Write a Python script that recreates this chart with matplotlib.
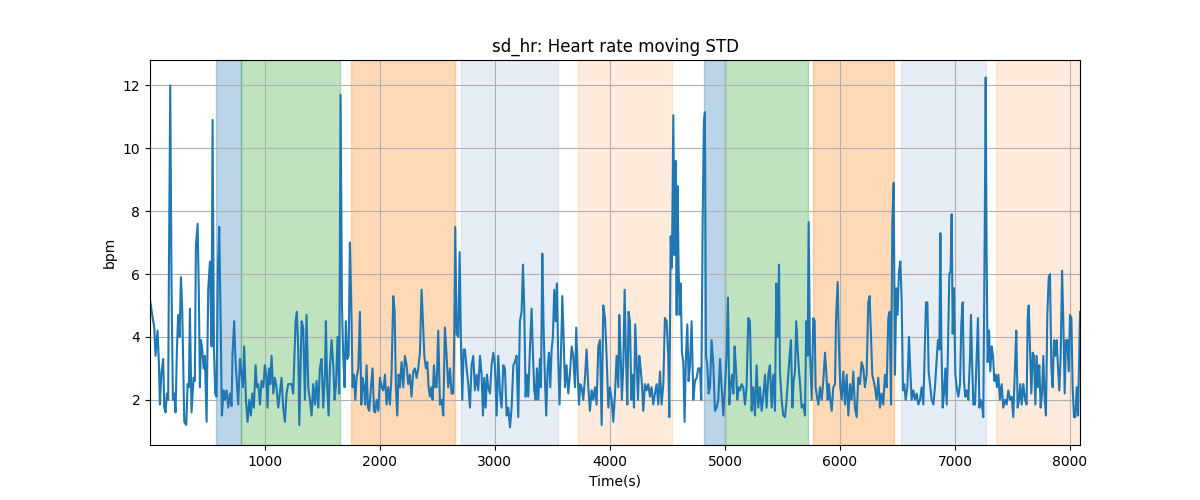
import matplotlib.pyplot as plt

# time axis (s) and moving std of heart rate (bpm)
time_s = [
    1, 20, 38, 49, 67, 78, 87, 101, 116, 125, 136, 148, 159, 165, 177, 188,
    200, 212, 223, 235, 246, 258, 270, 281, 290, 299, 316, 328, 339, 348, 362,
    380, 391, 400, 415, 426, 435, 444, 455, 467, 478, 493, 507, 522, 536, 545,
    557, 568, 580, 591, 603, 615, 626, 641, 652, 667, 681, 696, 710, 719, 733,
    745, 757, 768, 783, 797, 809, 820, 835, 849, 864, 878, 890, 904, 919, 930,
    942, 957, 971, 986, 1000, 1012, 1023, 1035, 1046, 1058, 1073, 1087, 1101,
    1116, 1130, 1145, 1159, 1174, 1188, 1203, 1217, 1232, 1246, 1267, 1278,
    1290, 1299, 1319, 1333, 1348, 1362, 1377, 1391, 1406, 1420, 1435, 1449,
    1464, 1478, 1493, 1507, 1522, 1530, 1542, 1554, 1565, 1580, 1594, 1606,
    1617, 1632, 1646, 1658, 1670, 1681, 1693, 1704, 1716, 1728, 1739, 1751,
    1762, 1774, 1786, 1797, 1812, 1826, 1838, 1849, 1861, 1872, 1884, 1896,
    1907, 1922, 1936, 1948, 1959, 1971, 1986, 2000, 2015, 2029, 2044, 2058,
    2072, 2087, 2101, 2116, 2128, 2139, 2151, 2162, 2174, 2188, 2203, 2217,
    2232, 2246, 2261, 2275, 2290, 2304, 2319, 2333, 2348, 2362, 2374, 2386,
    2400, 2412, 2423, 2435, 2446, 2458, 2470, 2481, 2493, 2507, 2522, 2536,
    2551, 2565, 2580, 2594, 2609, 2623, 2638, 2646, 2655, 2667, 2681, 2693,
    2704, 2716, 2728, 2739, 2754, 2768, 2783, 2797, 2812, 2826, 2841, 2855,
    2870, 2884, 2896, 2907, 2919, 2931, 2942, 2957, 2971, 2986, 3000, 3015,
    3029, 3044, 3058, 3073, 3087, 3102, 3116, 3131, 3145, 3160, 3174, 3188,
    3203, 3217, 3232, 3244, 3255, 3267, 3278, 3290, 3304, 3319, 3331, 3342,
    3354, 3365, 3377, 3391, 3400, 3412, 3423, 3435, 3446, 3458, 3470, 3481,
    3493, 3504, 3516, 3528, 3539, 3551, 3562, 3574, 3586, 3597, 3609, 3623,
    3638, 3652, 3667, 3681, 3696, 3707, 3719, 3731, 3742, 3754, 3768, 3783,
    3797, 3812, 3826, 3841, 3855, 3870, 3884, 3899, 3913, 3928, 3942, 3957,
    3971, 3986, 4000, 4015, 4029, 4044, 4058, 4073, 4081, 4093, 4104, 4116,
    4128, 4139, 4151, 4162, 4174, 4186, 4197, 4209, 4220, 4232, 4244, 4255,
    4267, 4278, 4290, 4304, 4319, 4333, 4348, 4362, 4377, 4391, 4406, 4420,
    4435, 4449, 4464, 4478, 4493, 4507, 4516, 4528, 4539, 4551, 4562, 4571,
    4580, 4588, 4597, 4606, 4615, 4626, 4638, 4649, 4661, 4673, 4684, 4696,
    4710, 4725, 4739, 4754, 4768, 4783, 4794, 4806, 4817, 4826, 4835, 4846,
    4858, 4870, 4884, 4899, 4913, 4928, 4942, 4957, 4971, 4986, 5000, 5015,
    5026, 5038, 5049, 5061, 5073, 5084, 5096, 5107, 5119, 5130, 5145, 5159,
    5174, 5188, 5203, 5217, 5232, 5246, 5261, 5275, 5290, 5304, 5319, 5333,
    5348, 5362, 5377, 5391, 5406, 5420, 5435, 5446, 5458, 5470, 5478, 5493,
    5507, 5522, 5536, 5551, 5562, 5574, 5586, 5597, 5609, 5620, 5632, 5644,
    5655, 5667, 5681, 5696, 5707, 5719, 5728, 5739, 5754, 5768, 5780, 5788,
    5800, 5812, 5826, 5841, 5855, 5870, 5881, 5893, 5904, 5916, 5928, 5942,
    5957, 5965, 5980, 5991, 6003, 6015, 6029, 6044, 6058, 6073, 6087, 6101,
    6116, 6130, 6145, 6159, 6174, 6188, 6203, 6217, 6232, 6246, 6258, 6270,
    6281, 6293, 6304, 6319, 6333, 6348, 6362, 6377, 6391, 6406, 6420, 6432,
    6444, 6455, 6467, 6478, 6490, 6501, 6513, 6525, 6536, 6548, 6559, 6571,
    6586, 6600, 6612, 6623, 6638, 6652, 6667, 6681, 6696, 6710, 6725, 6736,
    6748, 6760, 6771, 6783, 6797, 6812, 6826, 6841, 6852, 6864, 6873, 6881,
    6893, 6904, 6916, 6928, 6939, 6951, 6962, 6971, 6980, 6991, 7003, 7015,
    7029, 7044, 7055, 7067, 7078, 7090, 7102, 7116, 7131, 7139, 7151, 7160,
    7174, 7189, 7200, 7212, 7223, 7235, 7246, 7258, 7267, 7275, 7284, 7296,
    7307, 7319, 7331, 7342, 7354, 7365, 7377, 7391, 7406, 7420, 7435, 7449,
    7464, 7478, 7493, 7507, 7522, 7533, 7545, 7557, 7568, 7580, 7594, 7609,
    7623, 7632, 7641, 7652, 7664, 7676, 7687, 7699, 7710, 7722, 7733, 7745,
    7757, 7768, 7780, 7791, 7803, 7815, 7826, 7838, 7849, 7861, 7873, 7884,
    7896, 7907, 7919, 7931, 7942, 7954, 7965, 7977, 7989, 8000, 8012, 8023,
    8035, 8047, 8058, 8070, 8087,
]
sd_hr = [
    5.2, 4.7, 4.3, 3.4, 4.2, 3.2, 1.85, 2.9, 3.3, 1.75, 1.6, 2.2, 2.0, 5.8,
    12.0, 5.7, 2.0, 2.2, 1.6, 3.6, 4.7, 4.0, 5.9, 4.9, 3.0, 1.3, 1.2, 2.5, 2.4,
    4.9, 1.6, 2.7, 2.6, 6.9, 7.6, 5.3, 2.4, 3.9, 3.6, 3.0, 3.4, 1.3, 5.5, 6.4,
    3.7, 10.9, 3.6, 2.2, 2.1, 6.1, 7.5, 4.5, 1.5, 2.3, 2.0, 2.3, 1.75, 2.2, 1.8,
    3.5, 4.5, 3.2, 2.5, 1.85, 3.3, 2.8, 2.4, 3.7, 2.0, 1.3, 2.0, 1.5, 2.2, 1.75,
    3.1, 2.4, 2.5, 1.85, 2.6, 2.4, 3.1, 2.8, 1.75, 3.0, 2.5, 3.4, 2.2, 2.7, 2.4,
    1.75, 2.2, 2.7, 1.75, 1.3, 2.2, 2.5, 2.5, 2.5, 2.2, 4.5, 4.8, 3.6, 1.2, 4.5,
    4.3, 2.0, 4.7, 2.4, 2.0, 1.5, 2.5, 1.85, 2.6, 1.75, 3.0, 3.3, 1.75, 2.8,
    4.5, 2.4, 1.5, 3.0, 3.9, 3.1, 2.0, 2.4, 4.0, 2.2, 11.7, 5.0, 3.4, 2.4, 4.5,
    3.3, 3.4, 7.0, 5.1, 2.4, 2.8, 2.0, 2.7, 3.0, 4.8, 1.85, 2.7, 2.4, 1.85,
    3.1, 1.75, 1.65, 2.4, 3.0, 1.65, 1.6, 2.0, 1.65, 2.7, 2.4, 2.3, 2.8, 1.85,
    2.4, 1.85, 2.8, 5.3, 4.8, 2.4, 1.5, 2.8, 2.4, 3.2, 2.4, 3.4, 3.1, 2.5, 2.8,
    2.1, 2.9, 3.0, 2.7, 3.0, 3.5, 5.5, 4.5, 3.4, 3.0, 3.2, 2.4, 2.1, 2.4, 2.0,
    3.1, 2.4, 2.4, 4.2, 1.85, 2.0, 1.5, 4.3, 3.4, 2.4, 3.0, 2.2, 2.2, 3.9, 7.5,
    4.1, 4.0, 6.7, 3.9, 2.0, 3.6, 3.6, 3.0, 2.5, 1.75, 3.1, 3.4, 2.3, 2.8, 2.3,
    3.4, 2.8, 1.5, 2.7, 1.75, 2.8, 2.4, 2.2, 3.1, 3.5, 3.1, 1.5, 3.4, 2.2, 1.75,
    3.1, 3.0, 1.5, 1.75, 1.12, 1.75, 3.1, 3.2, 3.4, 1.45, 4.5, 4.8, 6.3, 4.9,
    2.1, 2.8, 2.1, 3.6, 4.9, 3.4, 2.3, 2.0, 3.0, 2.0, 3.3, 2.4, 6.65, 4.3, 2.6,
    1.5, 3.0, 3.5, 2.4, 3.6, 4.0, 5.5, 4.5, 5.7, 3.2, 1.85, 3.4, 5.3, 4.0, 2.4,
    3.1, 2.2, 2.8, 3.7, 3.4, 2.4, 4.3, 2.9, 1.85, 2.5, 2.4, 2.0, 2.7, 3.6, 2.4,
    1.65, 2.3, 2.0, 2.4, 1.85, 3.7, 3.9, 1.2, 5.0, 4.6, 3.4, 1.75, 2.4, 2.0,
    1.3, 2.2, 3.4, 2.4, 4.7, 3.4, 2.0, 3.1, 5.5, 3.4, 1.85, 4.8, 4.5, 2.0, 2.8,
    1.75, 4.4, 3.2, 2.0, 3.4, 3.0, 2.5, 1.65, 2.5, 2.3, 2.5, 2.1, 2.4, 1.85,
    2.2, 2.5, 1.85, 2.9, 1.85, 2.5, 4.6, 4.5, 3.4, 1.45, 7.2, 6.2, 11.05, 6.6,
    9.6, 4.7, 8.8, 6.2, 4.7, 5.7, 3.5, 3.2, 1.3, 3.4, 4.4, 2.6, 3.1, 4.5, 2.0,
    2.6, 2.7, 3.0, 3.0, 2.0, 7.6, 10.85, 11.15, 3.4, 3.1, 2.2, 2.4, 3.9, 3.1,
    1.65, 1.75, 2.0, 3.3, 2.4, 1.5, 2.4, 3.5, 5.25, 1.85, 2.4, 2.8, 2.2, 3.7,
    3.0, 2.0, 2.4, 2.3, 2.5, 2.4, 1.85, 2.4, 4.6, 4.5, 1.65, 2.4, 1.5, 3.1,
    1.75, 2.4, 1.65, 2.1, 2.8, 1.75, 2.8, 3.1, 1.75, 2.8, 1.65, 5.7, 4.0, 6.3,
    2.9, 2.0, 1.5, 1.45, 2.0, 2.8, 3.4, 3.9, 1.75, 2.6, 2.9, 4.5, 3.6, 2.9, 2.4,
    1.75, 1.85, 1.5, 4.5, 3.4, 7.65, 3.5, 2.0, 4.6, 4.5, 2.4, 2.1, 1.85, 2.4,
    2.0, 2.6, 3.5, 2.9, 2.0, 2.5, 2.0, 1.65, 2.4, 2.5, 4.5, 5.75, 3.7, 2.4, 2.0,
    2.9, 1.85, 2.8, 1.5, 2.5, 2.0, 2.9, 1.75, 1.45, 2.7, 2.5, 3.2, 3.0, 2.4,
    2.8, 5.1, 5.3, 4.0, 2.8, 2.6, 2.4, 2.0, 2.7, 1.75, 2.2, 1.85, 2.8, 2.4, 4.6,
    4.8, 1.85, 7.65, 8.9, 2.8, 5.55, 4.7, 6.1, 6.4, 5.2, 2.3, 2.5, 2.0, 2.4,
    4.0, 2.9, 2.0, 2.3, 2.0, 2.2, 1.85, 2.0, 2.4, 1.85, 3.4, 5.1, 5.1, 2.9, 2.5,
    2.0, 1.85, 2.4, 3.3, 3.9, 3.6, 7.3, 3.9, 1.75, 2.2, 3.0, 1.85, 3.6, 6.0,
    6.1, 7.9, 4.1, 5.55, 2.8, 2.4, 2.1, 2.5, 4.4, 5.1, 2.6, 2.1, 2.3, 2.0, 3.4,
    4.7, 2.9, 1.85, 1.85, 3.4, 4.6, 1.75, 2.0, 1.85, 1.45, 7.0, 12.25, 6.6, 3.2,
    4.2, 2.9, 3.7, 3.4, 2.6, 2.8, 2.4, 2.8, 2.0, 2.5, 1.75, 2.0, 1.85, 2.3, 2.0,
    2.1, 1.45, 3.1, 4.2, 1.75, 2.0, 2.5, 1.85, 2.5, 2.0, 1.85, 4.6, 5.0, 3.7,
    2.2, 3.5, 3.4, 1.85, 3.4, 2.4, 3.1, 1.75, 2.2, 3.4, 2.0, 1.5, 4.7, 5.9, 6.0,
    3.0, 2.4, 3.9, 3.4, 3.9, 3.0, 2.3, 3.4, 6.1, 4.5, 2.2, 3.9, 3.9, 2.9, 4.7,
    4.6, 2.4, 1.45, 1.45, 2.4, 1.5, 4.8,
]

# shaded phases
span_start = [574, 794, 1748, 2704, 3725, 4820, 5003, 5768, 6530, 7356]
span_end = [794, 1649, 2649, 3545, 4536, 5003, 5719, 6467, 7267, 8087]
span_color = ['tab:blue', 'tab:green', 'tab:orange', 'lightsteelblue', 'tab:orange',
              'tab:blue', 'tab:green', 'tab:orange', 'lightsteelblue', 'tab:orange']
span_alpha = [0.3, 0.3, 0.3, 0.3, 0.15, 0.3, 0.3, 0.3, 0.3, 0.15]

fig, ax = plt.subplots(figsize=(12, 5), dpi=100)

for s, e, c, a in zip(span_start, span_end, span_color, span_alpha):
    ax.axvspan(s, e, color=c, alpha=a)

ax.plot(time_s, sd_hr, color='tab:blue')
ax.set_xlim(time_s[0], time_s[-1])
ax.grid(True)
ax.set_title('sd_hr: Heart rate moving STD')
ax.set_xlabel('Time(s)')
ax.set_ylabel('bpm')

plt.savefig('out.png')
